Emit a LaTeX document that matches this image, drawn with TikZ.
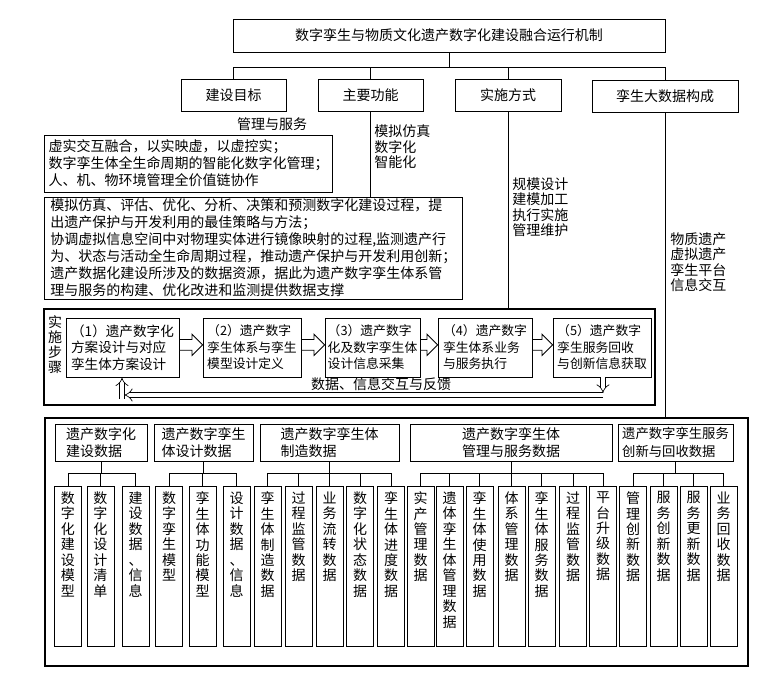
\documentclass[tikz,border=0pt]{standalone}
\usepackage{fontspec}
\setmainfont{Noto Sans CJK SC}
\usetikzlibrary{arrows.meta,calc}
\makeatletter
\def\vt@aux#1{\ifx\relax#1\else\vt@sep#1\def\vt@sep{\\}\expandafter\vt@aux\fi}
\newcommand\vtext[1]{\def\vt@sep{}\expandafter\vt@aux#1\relax}
\makeatother
\newcommand\harrow[2]{%
  \draw[line width=0.6pt, fill=white] let \p1=(#1.east), \p2=(#2.west) in
  (\x1,\y1+6pt) -- (\x2-8pt,\y1+6pt) -- (\x2-8pt,\y1+10pt) -- (\x2,\y1+2pt)
  -- (\x2-8pt,\y1-6pt) -- (\x2-8pt,\y1-2pt) -- (\x1,\y1-2pt) -- cycle;}
\begin{document}
\begin{tikzpicture}[x=0.75pt,y=-0.75pt,
  every node/.style={font=\fontsize{10.5}{12.75}\selectfont},
  box/.style={draw, line width=0.6pt, inner sep=0pt, align=center},
  plain/.style={inner sep=0pt, align=left},
  conn/.style={line width=0.6pt},
  fb/.style={double, double distance=3pt, line width=0.5pt, -{Implies[scale=1.35]}},
  stepbox/.style={box, minimum height=44.25pt, align=left, font=\fontsize{9.6}{12.4}\selectfont},
  cat/.style={box, minimum height=27.75pt, font=\fontsize{10.5}{13}\selectfont},
  leaf/.style={draw, line width=0.6pt, inner sep=0pt, minimum width=20.25pt, minimum height=120pt, anchor=north},
  vlist/.style={plain, font=\fontsize{10.5}{11.6}\selectfont, anchor=west},
]
\fill[white] (0,0) rectangle (776,678);
\useasboundingbox (0,0) rectangle (776,678);

% ---- top level
\node[box, minimum width=324pt, minimum height=24.75pt] (title) at (449,35.5) {数字孪生与物质文化遗产数字化建设融合运行机制};
\node[box, minimum width=78.75pt, minimum height=24pt] (g1) at (233.5,95) {建设目标};
\node[box, minimum width=78.75pt, minimum height=24pt] (g2) at (370.5,95) {主要功能};
\node[box, minimum width=79.5pt, minimum height=24pt] (g3) at (508,95) {实施方式};
\node[box, minimum width=109.5pt, minimum height=24pt] (g4) at (665,96) {孪生大数据构成};

\coordinate (tbus) at (449,67);
\foreach \g in {g1,g2,g3,g4}
  \draw[conn] (title.south) -- (title.south|-tbus) -| (\g.north);

% ---- texts under row 2
\node[plain] (mgmt) at (272,124) {管理与服务};
\node[box, align=left, text width=209pt, inner xsep=3.5pt, minimum height=42.75pt] (tb1) at (188,163.5)
  {虚实交互融合，以实映虚，以虚控实；\\数字孪生体全生命周期的智能化数字化管理；\\人、机、物环境管理全价值链协作};
\node[box, align=left, text width=304pt, inner xsep=4.75pt, inner ysep=0.5pt, minimum height=76.5pt] (tb2) at (253,248)
  {模拟仿真、评估、优化、分析、决策和预测数字化建设过程，提\\出遗产保护与开发利用的最佳策略与方法；\\协调虚拟信息空间中对物理实体进行镜像映射的过程,监测遗产行\\为、状态与活动全生命周期过程，推动遗产保护与开发利用创新；\\遗产数据化建设所涉及的数据资源，据此为遗产数字孪生体系管\\理与服务的构建、优化改进和监测提供数据支撑};
\node[vlist] (func) at (374,147) {模拟仿真\\数字化\\智能化};
\node[vlist] (way) at (512,207) {规模设计\\建模加工\\执行实施\\管理维护};
\node[vlist] (comp) at (670,262) {物质遗产\\虚拟遗产\\孪生平台\\信息交互};

% ---- steps
\node[box, minimum width=458.25pt, minimum height=72pt, line width=0.8pt] (steps) at (349.5,357) {};
\node[plain, align=center, font=\fontsize{10.5}{11.25}\selectfont] (stepslbl) at (55,345) {实\\施\\步\\骤};
\node[stepbox, minimum width=84.75pt, font=\fontsize{10.2}{12.4}\selectfont] (s1) at (122.5,347.5) {（1）遗产数字化\\方案设计与对应\\孪生体方案设计};
\node[stepbox, minimum width=73.5pt] (s2) at (252,347.5) {（2）遗产数字\\孪生体系与孪生\\模型设计定义};
\node[stepbox, minimum width=71.25pt] (s3) at (372.5,347.5) {（3）遗产数字\\化及数字孪生体\\设计信息采集};
\node[stepbox, minimum width=70.5pt] (s4) at (485,347.5) {（4）遗产数字\\孪生体系业务\\与服务执行};
\node[stepbox, minimum width=73.5pt] (s5) at (602,347.5) {（5）遗产数字\\孪生服务回收\\与创新信息获取};
\harrow{s1}{s2}
\harrow{s2}{s3}
\harrow{s3}{s4}
\harrow{s4}{s5}

\coordinate (fbRt) at (603,393);
\coordinate (fbR) at (603,395);
\coordinate (fbL) at (124,395);
\coordinate (fbB) at (122,399);
\draw[fb] (fbR) -- (fbL);
\draw[fb] (s5.south -| fbRt) -- (fbRt);
\draw[fb] (fbB) -- (fbB |- s1.south);
\node[plain] (fblbl) at (381,384) {数据、信息交互与反馈};

\draw[conn] (g2.south) -- (g2.south|-tb2.north);
\draw[conn] (g3.south) -- (g3.south|-steps.north);

% ---- bottom data
\node[box, minimum width=527.25pt, minimum height=186pt, line width=0.8pt] (bottom) at (396.5,542) {};
\draw[conn] (g4.south) -- (g4.south|-bottom.north);

\node[cat, minimum width=69pt, align=left] (C1) at (101,442.5) {遗产数字化\\建设数据};
\node[cat, minimum width=74.25pt, align=left] (C2) at (203.5,442.5) {遗产数字孪生\\体设计数据};
\node[cat, minimum width=104.25pt, align=left] (C3) at (329.5,442.5) {遗产数字孪生体\\制造数据};
\node[cat, minimum width=151.5pt, align=center] (C4) at (511,442.5) {遗产数字孪生体\\管理与服务数据};
\node[cat, minimum width=86.25pt, align=left, font=\fontsize{10}{13}\selectfont] (C5) at (675.5,442.5) {遗产数字孪生服务\\创新与回收数据};

\foreach \n/\x/\t in {
  L1/68/数字化建设模型, L2/100.5/数字化设计清单, L3/135.5/建设数据、信息,
  L4/169/数字孪生模型, L5/202.5/孪生体功能模型, L6/236.5/设计数据、信息,
  L7/267.5/孪生体制造数据, L8/298.5/过程监管数据, L9/329.5/业务流转数据,
  L10/360/数字化状态数据, L11/391/孪生体进度数据,
  L12/420.5/实产管理数据, L13/449.5/遗体孪生体管理数据, L14/479.5/孪生体使用数据,
  L15/511.5/体系管理数据, L16/541.5/孪生体服务数据, L17/573/过程监管数据,
  L18/603/平台升级数据, L19/633/管理创新数据, L20/663.5/服务创新数据,
  L21/693.5/服务更新数据, L22/723.5/业务回收数据}
  \node[leaf] (\n) at (\x,486) {\parbox[c][112pt][t]{14pt}{\centering\fontsize{10.5}{11.6}\selectfont\vtext{\t}}};

\coordinate (lbus) at (0,473);
\foreach \l in {L1,L2,L3} \draw[conn] (C1.south) -- (C1.south|-lbus) -| (\l.north);
\foreach \l in {L4,L5,L6} \draw[conn] (C2.south) -- (C2.south|-lbus) -| (\l.north);
\foreach \l in {L7,L8,L9,L10,L11} \draw[conn] (C3.south) -- (C3.south|-lbus) -| (\l.north);
\foreach \l in {L12,L13,L14,L15,L16,L17,L18} \draw[conn] (C4.south) -- (C4.south|-lbus) -| (\l.north);
\foreach \l in {L19,L20,L21,L22} \draw[conn] (C5.south) -- (C5.south|-lbus) -| (\l.north);
\end{tikzpicture}
\end{document}
